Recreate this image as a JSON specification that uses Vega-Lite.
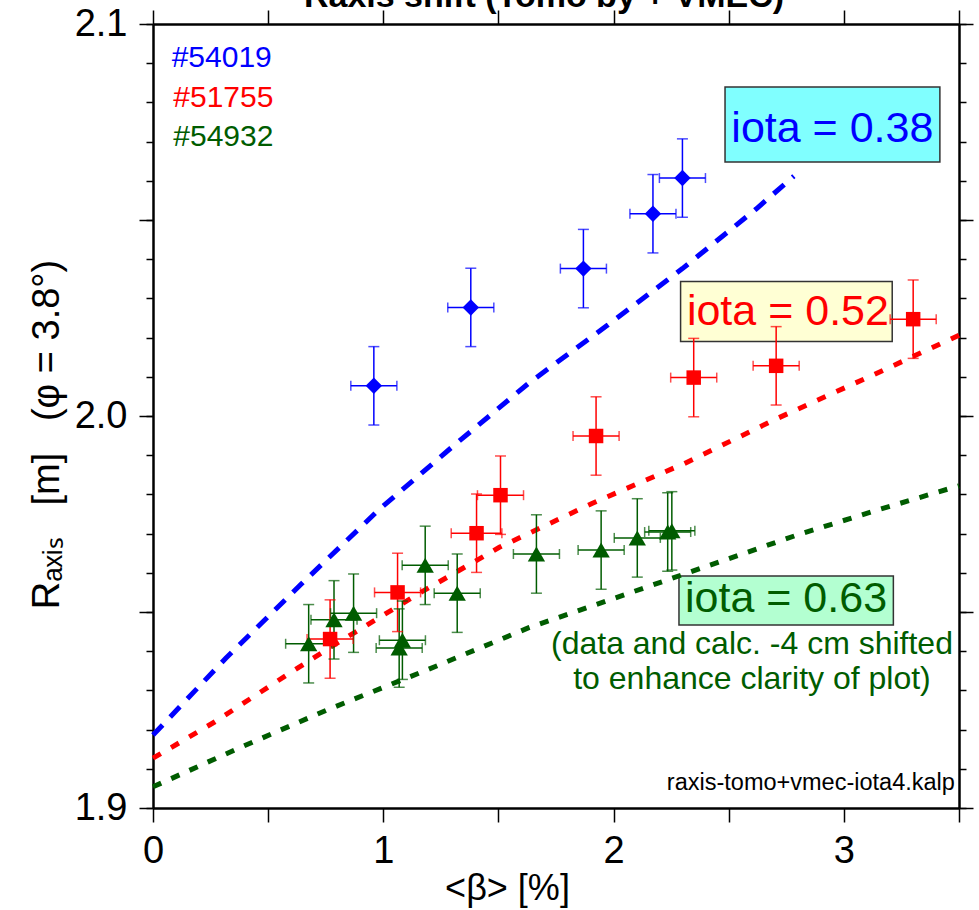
{
  "$schema": "https://vega.github.io/schema/vega-lite/v6.json",
  "width": 806,
  "height": 784,
  "autosize": {"type": "none"},
  "padding": {"left": 153, "top": 24, "right": 20, "bottom": 102},
  "background": "white",
  "config": {
    "view": {"stroke": null},
    "axis": {"domainColor": "black", "tickColor": "black", "labelColor": "black", "titleColor": "black", "grid": false, "domainWidth": 2.5, "tickWidth": 1.5, "labelFont": "Liberation Sans", "titleFont": "Liberation Sans", "titleFontWeight": "normal", "labelFlush": false, "labelOverlap": false, "labelBound": false}
  },
  "datasets": {
    "points": [
      {"series": "#54019", "beta": 0.959, "R": 2.0077, "blo": 0.859, "bhi": 1.059, "rlo": 1.9977, "rhi": 2.0177},
      {"series": "#54019", "beta": 1.380, "R": 2.0277, "blo": 1.280, "bhi": 1.480, "rlo": 2.0177, "rhi": 2.0377},
      {"series": "#54019", "beta": 1.869, "R": 2.0376, "blo": 1.769, "bhi": 1.969, "rlo": 2.0276, "rhi": 2.0476},
      {"series": "#54019", "beta": 2.171, "R": 2.0516, "blo": 2.071, "bhi": 2.271, "rlo": 2.0416, "rhi": 2.0616},
      {"series": "#54019", "beta": 2.299, "R": 2.0607, "blo": 2.199, "bhi": 2.399, "rlo": 2.0507, "rhi": 2.0707},
      {"series": "#51755", "beta": 0.769, "R": 1.9431, "blo": 0.669, "bhi": 0.869, "rlo": 1.9331, "rhi": 1.9531},
      {"series": "#51755", "beta": 1.062, "R": 1.9550, "blo": 0.962, "bhi": 1.162, "rlo": 1.9450, "rhi": 1.9650},
      {"series": "#51755", "beta": 1.405, "R": 1.9701, "blo": 1.295, "bhi": 1.515, "rlo": 1.9601, "rhi": 1.9801},
      {"series": "#51755", "beta": 1.509, "R": 1.9798, "blo": 1.409, "bhi": 1.609, "rlo": 1.9698, "rhi": 1.9898},
      {"series": "#51755", "beta": 1.924, "R": 1.9949, "blo": 1.824, "bhi": 2.024, "rlo": 1.9849, "rhi": 2.0049},
      {"series": "#51755", "beta": 2.348, "R": 2.0098, "blo": 2.248, "bhi": 2.448, "rlo": 1.9998, "rhi": 2.0198},
      {"series": "#51755", "beta": 2.706, "R": 2.0128, "blo": 2.606, "bhi": 2.806, "rlo": 2.0028, "rhi": 2.0228},
      {"series": "#51755", "beta": 3.301, "R": 2.0247, "blo": 3.201, "bhi": 3.401, "rlo": 2.0147, "rhi": 2.0347},
      {"series": "#54932", "beta": 0.676, "R": 1.9419, "blo": 0.576, "bhi": 0.776, "rlo": 1.9319, "rhi": 1.9519},
      {"series": "#54932", "beta": 0.786, "R": 1.9480, "blo": 0.686, "bhi": 0.886, "rlo": 1.9380, "rhi": 1.9580},
      {"series": "#54932", "beta": 0.871, "R": 1.9497, "blo": 0.771, "bhi": 0.971, "rlo": 1.9397, "rhi": 1.9597},
      {"series": "#54932", "beta": 1.069, "R": 1.9408, "blo": 0.969, "bhi": 1.169, "rlo": 1.9308, "rhi": 1.9508},
      {"series": "#54932", "beta": 1.083, "R": 1.9428, "blo": 0.983, "bhi": 1.183, "rlo": 1.9328, "rhi": 1.9528},
      {"series": "#54932", "beta": 1.182, "R": 1.9619, "blo": 1.082, "bhi": 1.282, "rlo": 1.9519, "rhi": 1.9719},
      {"series": "#54932", "beta": 1.321, "R": 1.9548, "blo": 1.221, "bhi": 1.421, "rlo": 1.9448, "rhi": 1.9648},
      {"series": "#54932", "beta": 1.665, "R": 1.9648, "blo": 1.565, "bhi": 1.765, "rlo": 1.9548, "rhi": 1.9748},
      {"series": "#54932", "beta": 1.946, "R": 1.9658, "blo": 1.846, "bhi": 2.046, "rlo": 1.9558, "rhi": 1.9758},
      {"series": "#54932", "beta": 2.103, "R": 1.9689, "blo": 2.003, "bhi": 2.203, "rlo": 1.9589, "rhi": 1.9789},
      {"series": "#54932", "beta": 2.235, "R": 1.9704, "blo": 2.135, "bhi": 2.335, "rlo": 1.9604, "rhi": 1.9804},
      {"series": "#54932", "beta": 2.253, "R": 1.9707, "blo": 2.153, "bhi": 2.353, "rlo": 1.9607, "rhi": 1.9807}
    ],
    "calc": [
      {"series": "#54019", "beta": 0.0, "R": 1.9186},
      {"series": "#54019", "beta": 0.316, "R": 1.9382},
      {"series": "#54019", "beta": 0.645, "R": 1.9572},
      {"series": "#54019", "beta": 0.983, "R": 1.9762},
      {"series": "#54019", "beta": 1.303, "R": 1.9923},
      {"series": "#54019", "beta": 1.632, "R": 2.0084},
      {"series": "#54019", "beta": 1.970, "R": 2.0230},
      {"series": "#54019", "beta": 2.299, "R": 2.0376},
      {"series": "#54019", "beta": 2.619, "R": 2.0528},
      {"series": "#54019", "beta": 2.783, "R": 2.0612},
      {"series": "#51755", "beta": 0.0, "R": 1.9127},
      {"series": "#51755", "beta": 0.269, "R": 1.9220},
      {"series": "#51755", "beta": 0.580, "R": 1.9339},
      {"series": "#51755", "beta": 0.773, "R": 1.9411},
      {"series": "#51755", "beta": 1.157, "R": 1.9548},
      {"series": "#51755", "beta": 1.504, "R": 1.9665},
      {"series": "#51755", "beta": 1.906, "R": 1.9777},
      {"series": "#51755", "beta": 2.308, "R": 1.9879},
      {"series": "#51755", "beta": 2.708, "R": 1.9993},
      {"series": "#51755", "beta": 3.128, "R": 2.0105},
      {"series": "#51755", "beta": 3.5, "R": 2.0206},
      {"series": "#54932", "beta": 0.0, "R": 1.9054},
      {"series": "#54932", "beta": 0.362, "R": 1.9150},
      {"series": "#54932", "beta": 0.755, "R": 1.9250},
      {"series": "#54932", "beta": 1.193, "R": 1.9353},
      {"series": "#54932", "beta": 1.632, "R": 1.9460},
      {"series": "#54932", "beta": 2.200, "R": 1.9575},
      {"series": "#54932", "beta": 2.795, "R": 1.9696},
      {"series": "#54932", "beta": 3.128, "R": 1.9757},
      {"series": "#54932", "beta": 3.5, "R": 1.9822}
    ],
    "boxes": [
      {"series": "#54019", "x1": 2.484, "x2": 3.417, "y1": 2.0648, "y2": 2.0839},
      {"series": "#51755", "x1": 2.291, "x2": 3.210, "y1": 2.0190, "y2": 2.0343},
      {"series": "#54932", "x1": 2.284, "x2": 3.215, "y1": 1.9467, "y2": 1.9592}
    ],
    "iota": [
      {"series": "#54019", "label": "iota = 0.38", "x": 2.950, "y": 2.0700},
      {"series": "#51755", "label": "iota = 0.52", "x": 2.757, "y": 2.0232},
      {"series": "#54932", "label": "iota = 0.63", "x": 2.749, "y": 1.9501}
    ],
    "legend": [
      {"series": "#54019", "label": "#54019", "x": 0.081, "y": 2.0891},
      {"series": "#51755", "label": "#51755", "x": 0.088, "y": 2.0789},
      {"series": "#54932", "label": "#54932", "x": 0.088, "y": 2.0689}
    ],
    "note": [
      {"series": "#54932", "label": "(data and calc. -4 cm shifted", "x": 2.601, "y": 1.9392},
      {"series": "#54932", "label": "to enhance clarity of plot)", "x": 2.601, "y": 1.9303}
    ],
    "file": [
      {"label": "raxis-tomo+vmec-iota4.kalp", "x": 3.482, "y": 1.9046}
    ],
    "head": [
      {"label": "Raxis shift (Tomo by + VMEC)", "x": 1.698, "y": 2.1043}
    ]
  },
  "resolve": {"axis": {"x": "independent", "y": "independent"}},
  "layer": [
    {
      "data": {"name": "boxes"},
      "mark": {"type": "rect", "stroke": "#333333", "strokeWidth": 1.5},
      "encoding": {
        "x": {"field": "x1", "type": "quantitative", "scale": {"domain": [0, 3.5], "nice": false, "zero": false},
              "axis": {"orient": "bottom", "values": [0, 0.5, 1, 1.5, 2, 2.5, 3, 3.5], "tickSize": 14, "labelFontSize": 38, "labelPadding": 10,
                       "labelExpr": "datum.value % 1 == 0 ? format(datum.value, 'd') : ''",
                       "title": "<β> [%]", "titleFontSize": 36, "titleX": 354, "titleY": 80, "titleBaseline": "middle", "titleAnchor": null}},
        "x2": {"field": "x2"},
        "y": {"field": "y1", "type": "quantitative", "scale": {"domain": [1.9, 2.1], "nice": false, "zero": false},
              "axis": {"orient": "left", "values": [1.9, 1.95, 2.0, 2.05, 2.1], "tickSize": 14, "labelFontSize": 38, "labelPadding": 12,
                       "labelExpr": "abs(datum.value*10 - round(datum.value*10)) < 0.001 ? format(datum.value, '.1f') : ''",
                       "title": "Rₐₓᵢₛ\u00a0\u00a0\u00a0[m]\u00a0\u00a0\u00a0(φ = 3.8°)", "titleFontSize": 38, "titleX": -106, "titleY": 410, "titleBaseline": "middle", "titleAlign": "center", "titleAngle": -90}},
        "y2": {"field": "y2"},
        "fill": {"field": "series", "type": "nominal", "scale": {"domain": ["#54019", "#51755", "#54932"], "range": ["#80FFFF", "#FFFFD4", "#B3FFD1"]}, "legend": null}
      }
    },
    {
      "data": {"name": "calc"},
      "mark": {"type": "line", "strokeWidth": 5},
      "encoding": {
        "x": {"field": "beta", "type": "quantitative", "scale": {"domain": [0, 3.5], "nice": false, "zero": false},
              "axis": {"orient": "top", "values": [0, 0.5, 1, 1.5, 2, 2.5, 3, 3.5], "tickSize": 14, "labels": false, "title": null}},
        "y": {"field": "R", "type": "quantitative", "scale": {"domain": [1.9, 2.1], "nice": false, "zero": false},
              "axis": {"orient": "right", "values": [1.9, 1.95, 2.0, 2.05, 2.1], "tickSize": 14, "labels": false, "title": null}},
        "color": {"field": "series", "type": "nominal", "scale": {"domain": ["#54019", "#51755", "#54932"], "range": ["#0000FF", "#FF0000", "#005C00"]}, "legend": null},
        "strokeDash": {"field": "series", "type": "nominal", "scale": {"domain": ["#54019", "#51755", "#54932"], "range": [[14, 11], [9, 12], [9, 11]]}, "legend": null}
      }
    },
    {
      "data": {"name": "points"},
      "mark": {"type": "rule", "strokeWidth": 1.5},
      "encoding": {
        "x": {"field": "blo", "type": "quantitative", "scale": {"domain": [0, 3.5], "nice": false, "zero": false}, "axis": null},
        "x2": {"field": "bhi"},
        "y": {"field": "R", "type": "quantitative", "scale": {"domain": [1.9, 2.1], "nice": false, "zero": false},
              "axis": {"orient": "left", "values": [1.9, 1.91, 1.92, 1.93, 1.94, 1.95, 1.96, 1.97, 1.98, 1.99, 2.0, 2.01, 2.02, 2.03, 2.04, 2.05, 2.06, 2.07, 2.08, 2.09, 2.1], "tickSize": 7, "labels": false, "domain": false, "title": null}},
        "color": {"field": "series", "type": "nominal", "legend": null}
      }
    },
    {
      "data": {"name": "points"},
      "mark": {"type": "rule", "strokeWidth": 1.5},
      "encoding": {
        "x": {"field": "beta", "type": "quantitative", "scale": {"domain": [0, 3.5], "nice": false, "zero": false}, "axis": null},
        "y": {"field": "rlo", "type": "quantitative", "scale": {"domain": [1.9, 2.1], "nice": false, "zero": false},
              "axis": {"orient": "right", "values": [1.9, 1.91, 1.92, 1.93, 1.94, 1.95, 1.96, 1.97, 1.98, 1.99, 2.0, 2.01, 2.02, 2.03, 2.04, 2.05, 2.06, 2.07, 2.08, 2.09, 2.1], "tickSize": 7, "labels": false, "domain": false, "title": null}},
        "y2": {"field": "rhi"},
        "color": {"field": "series", "type": "nominal", "legend": null}
      }
    },
    {
      "data": {"name": "points"},
      "mark": {"type": "tick", "orient": "vertical", "size": 10, "thickness": 1.5},
      "encoding": {
        "x": {"field": "blo", "type": "quantitative", "scale": {"domain": [0, 3.5], "nice": false, "zero": false}, "axis": null},
        "y": {"field": "R", "type": "quantitative", "scale": {"domain": [1.9, 2.1], "nice": false, "zero": false}, "axis": null},
        "color": {"field": "series", "type": "nominal", "legend": null}
      }
    },
    {
      "data": {"name": "points"},
      "mark": {"type": "tick", "orient": "vertical", "size": 10, "thickness": 1.5},
      "encoding": {
        "x": {"field": "bhi", "type": "quantitative", "scale": {"domain": [0, 3.5], "nice": false, "zero": false}, "axis": null},
        "y": {"field": "R", "type": "quantitative", "scale": {"domain": [1.9, 2.1], "nice": false, "zero": false}, "axis": null},
        "color": {"field": "series", "type": "nominal", "legend": null}
      }
    },
    {
      "data": {"name": "points"},
      "mark": {"type": "tick", "orient": "horizontal", "size": 11, "thickness": 1.5},
      "encoding": {
        "x": {"field": "beta", "type": "quantitative", "scale": {"domain": [0, 3.5], "nice": false, "zero": false}, "axis": null},
        "y": {"field": "rlo", "type": "quantitative", "scale": {"domain": [1.9, 2.1], "nice": false, "zero": false}, "axis": null},
        "color": {"field": "series", "type": "nominal", "legend": null}
      }
    },
    {
      "data": {"name": "points"},
      "mark": {"type": "tick", "orient": "horizontal", "size": 11, "thickness": 1.5},
      "encoding": {
        "x": {"field": "beta", "type": "quantitative", "scale": {"domain": [0, 3.5], "nice": false, "zero": false}, "axis": null},
        "y": {"field": "rhi", "type": "quantitative", "scale": {"domain": [1.9, 2.1], "nice": false, "zero": false}, "axis": null},
        "color": {"field": "series", "type": "nominal", "legend": null}
      }
    },
    {
      "data": {"name": "points"},
      "mark": {"type": "point", "filled": true, "opacity": 1, "strokeWidth": 0},
      "encoding": {
        "x": {"field": "beta", "type": "quantitative", "scale": {"domain": [0, 3.5], "nice": false, "zero": false}, "axis": null},
        "y": {"field": "R", "type": "quantitative", "scale": {"domain": [1.9, 2.1], "nice": false, "zero": false}, "axis": null},
        "color": {"field": "series", "type": "nominal", "legend": null},
        "shape": {"field": "series", "type": "nominal", "scale": {"domain": ["#54019", "#51755", "#54932"], "range": ["diamond", "square", "triangle-up"]}, "legend": null},
        "size": {"field": "series", "type": "nominal", "scale": {"type": "ordinal", "domain": ["#54019", "#51755", "#54932"], "range": [270, 210, 300]}, "legend": null}
      }
    },
    {
      "data": {"name": "iota"},
      "mark": {"type": "text", "font": "Liberation Sans", "fontSize": 43, "align": "center", "baseline": "alphabetic"},
      "encoding": {
        "x": {"field": "x", "type": "quantitative", "scale": {"domain": [0, 3.5], "nice": false, "zero": false}, "axis": null},
        "y": {"field": "y", "type": "quantitative", "scale": {"domain": [1.9, 2.1], "nice": false, "zero": false}, "axis": null},
        "text": {"field": "label"},
        "color": {"field": "series", "type": "nominal", "legend": null}
      }
    },
    {
      "data": {"name": "legend"},
      "mark": {"type": "text", "font": "Liberation Sans", "fontSize": 30, "align": "left", "baseline": "alphabetic"},
      "encoding": {
        "x": {"field": "x", "type": "quantitative", "scale": {"domain": [0, 3.5], "nice": false, "zero": false}, "axis": null},
        "y": {"field": "y", "type": "quantitative", "scale": {"domain": [1.9, 2.1], "nice": false, "zero": false}, "axis": null},
        "text": {"field": "label"},
        "color": {"field": "series", "type": "nominal", "legend": null}
      }
    },
    {
      "data": {"name": "note"},
      "mark": {"type": "text", "font": "Liberation Sans", "fontSize": 32, "align": "center", "baseline": "alphabetic"},
      "encoding": {
        "x": {"field": "x", "type": "quantitative", "scale": {"domain": [0, 3.5], "nice": false, "zero": false}, "axis": null},
        "y": {"field": "y", "type": "quantitative", "scale": {"domain": [1.9, 2.1], "nice": false, "zero": false}, "axis": null},
        "text": {"field": "label"},
        "color": {"field": "series", "type": "nominal", "legend": null}
      }
    },
    {
      "data": {"name": "file"},
      "mark": {"type": "text", "font": "Liberation Sans", "fontSize": 23.5, "align": "right", "baseline": "alphabetic", "color": "black"},
      "encoding": {
        "x": {"field": "x", "type": "quantitative", "scale": {"domain": [0, 3.5], "nice": false, "zero": false}, "axis": null},
        "y": {"field": "y", "type": "quantitative", "scale": {"domain": [1.9, 2.1], "nice": false, "zero": false}, "axis": null},
        "text": {"field": "label"}
      }
    },
    {
      "data": {"name": "head"},
      "mark": {"type": "text", "font": "Liberation Sans", "fontSize": 34, "fontWeight": "bold", "align": "center", "baseline": "alphabetic", "color": "black"},
      "encoding": {
        "x": {"field": "x", "type": "quantitative", "scale": {"domain": [0, 3.5], "nice": false, "zero": false}, "axis": null},
        "y": {"field": "y", "type": "quantitative", "scale": {"domain": [1.9, 2.1], "nice": false, "zero": false}, "axis": null},
        "text": {"field": "label"}
      }
    }
  ]
}
